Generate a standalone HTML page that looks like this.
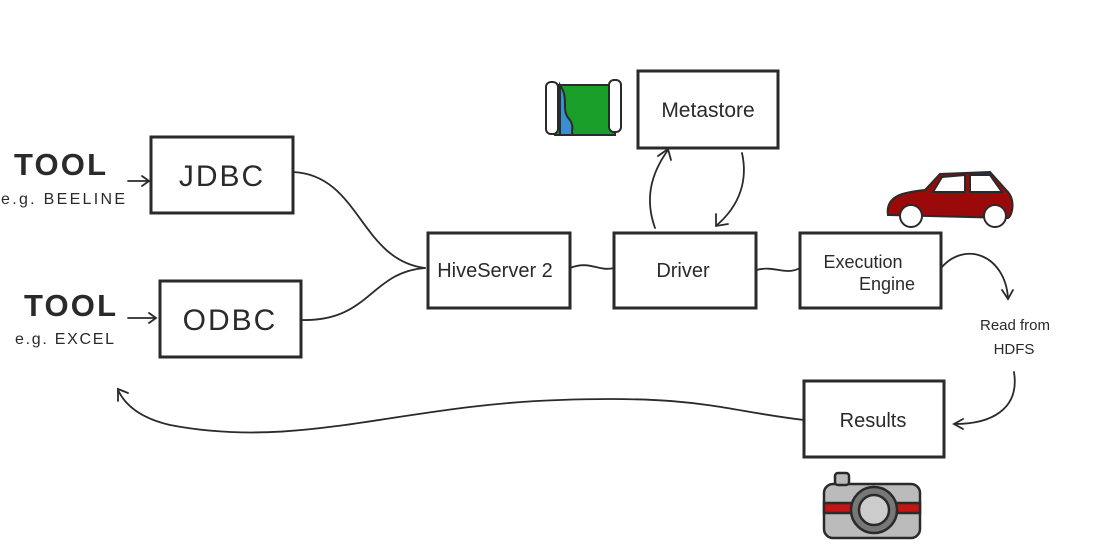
<!DOCTYPE html>
<html><head><style>body{margin:0;background:#fff}svg{display:block}</style></head><body>
<svg width="1100" height="550" viewBox="0 0 1100 550" xmlns="http://www.w3.org/2000/svg" font-family="'Liberation Sans',sans-serif" fill="none" stroke="#2a2a2a" stroke-width="2.5" stroke-linecap="round">
<g stroke-width="3">
<rect x="151" y="137" width="142" height="76"/>
<rect x="160" y="281" width="141" height="76"/>
<rect x="428" y="233" width="142" height="75"/>
<rect x="614" y="233" width="142" height="75"/>
<rect x="800" y="233" width="141" height="75"/>
<rect x="638" y="71" width="140" height="77"/>
<rect x="804" y="381" width="140" height="76"/>
</g>
<g stroke-width="1.8">
<path d="M293 172 C360 175 360 260 425 268"/>
<path d="M301 320 C370 322 370 272 425 268"/>
<path d="M570 268 C590 260 598 272 614 268"/>
<path d="M756 270 C775 265 785 276 800 268"/>
<path d="M941 268 C965 240 1005 255 1008 298"/><path d="M1002 290 L1008 299 L1013 290"/>
<path d="M1014 372 C1020 410 990 424 955 424"/><path d="M963 419 L954 424 L963 429"/>
<path d="M804 420 C720 410 700 395 560 400 C400 405 300 450 170 425 C140 418 125 405 118 390"/><path d="M118 401 L118 389 L128 393"/>
<path d="M655 228 C645 200 650 175 668 150"/><path d="M658 156 L668 149 L671 160"/>
<path d="M742 153 C748 180 740 205 717 225"/><path d="M716 214 L716 226 L728 224"/>
<path d="M128 181 L148 181"/><path d="M142 176 L149 181 L142 186"/>
<path d="M128 318 L155 318"/><path d="M149 313 L156 318 L149 323"/>
</g>
<g fill="#2a2a2a" stroke="none">
<text x="14" y="175" font-size="31" font-weight="bold" textLength="92">TOOL</text>
<text x="1" y="204" font-size="16" letter-spacing="1" textLength="125">e.g. BEELINE</text>
<text x="24" y="316" font-size="31" font-weight="bold" textLength="92">TOOL</text>
<text x="15" y="344" font-size="16" letter-spacing="1" textLength="100">e.g. EXCEL</text>
<text x="222" y="186" font-size="30" text-anchor="middle" letter-spacing="2">JDBC</text>
<text x="230" y="330" font-size="30" text-anchor="middle" letter-spacing="2">ODBC</text>
<text x="495" y="277" font-size="20" text-anchor="middle">HiveServer 2</text>
<text x="683" y="277" font-size="20" text-anchor="middle">Driver</text>
<text x="863" y="268" font-size="18" text-anchor="middle">Execution</text>
<text x="887" y="290" font-size="18" text-anchor="middle">Engine</text>
<text x="708" y="117" font-size="21" text-anchor="middle">Metastore</text>
<text x="873" y="427" font-size="20" text-anchor="middle">Results</text>
<text x="1015" y="330" font-size="15" text-anchor="middle">Read from</text>
<text x="1014" y="354" font-size="15" text-anchor="middle">HDFS</text>
</g>
<g stroke-width="2">
<rect x="555" y="85" width="60" height="50" fill="#1a9e2a"/>
<path d="M560 85 C570 100 560 110 570 120 C575 128 570 132 573 135 L560 135 Z" fill="#3a8fd0"/>
<rect x="546" y="82" width="12" height="52" rx="5" fill="#fff"/>
<rect x="609" y="80" width="12" height="52" rx="5" fill="#fff"/>
</g>
<g stroke-width="2">
<path d="M888 215 C885 195 905 192 925 190 L940 174 L990 172 L1008 192 C1015 200 1013 215 1008 218 Z" fill="#9b0a0a"/>
<path d="M942 177 L965 175 L965 192 L933 192 Z M970 175 L990 175 L1002 192 L970 192 Z" fill="#fff"/>
<circle cx="911" cy="216" r="11" fill="#fff"/><circle cx="995" cy="216" r="11" fill="#fff"/>
</g>
<g stroke-width="2.5">
<rect x="824" y="484" width="96" height="54" rx="9" fill="#bbb"/>
<rect x="835" y="473" width="14" height="12" rx="3" fill="#bbb"/>
<rect x="824" y="503" width="96" height="10" fill="#c41515"/>
<circle cx="874" cy="510" r="23" fill="#777"/>
<circle cx="874" cy="510" r="15" fill="#ccc"/>
</g>
</svg>
</body></html>
